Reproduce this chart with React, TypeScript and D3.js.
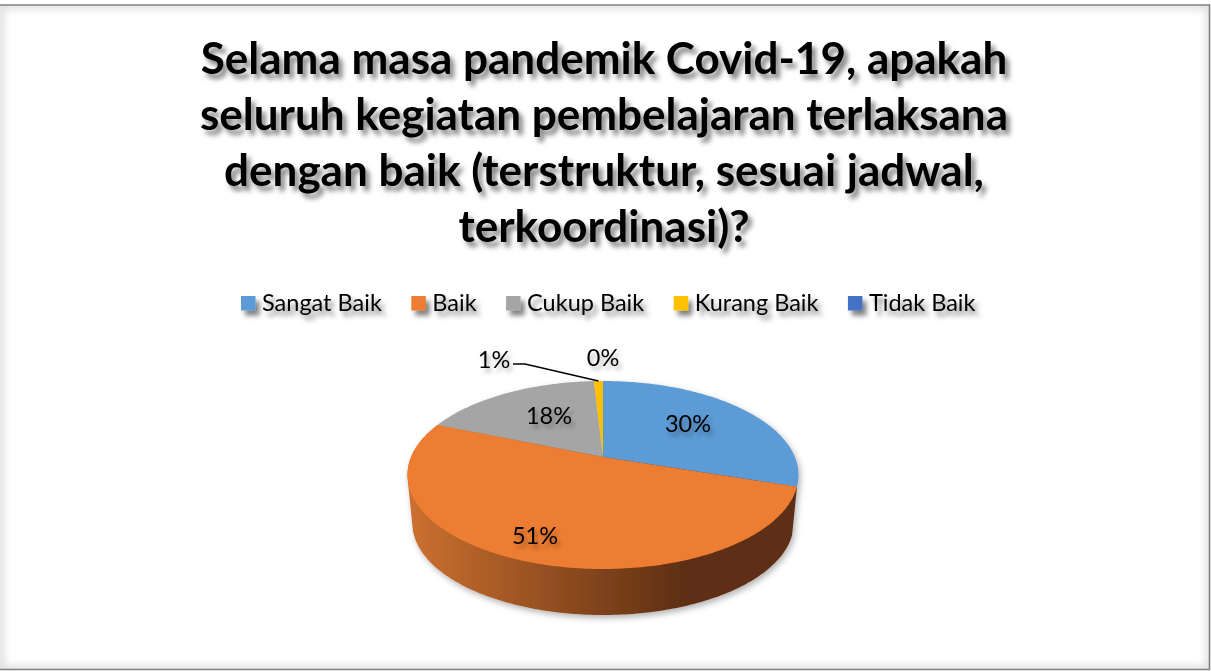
import { useEffect, useRef } from 'react';
import * as d3 from 'd3';

const categories = ['Sangat Baik', 'Baik', 'Cukup Baik', 'Kurang Baik', 'Tidak Baik'];
const values = [30.0, 51.2, 17.9, 0.9, 0];
const colors = ['#5B9BD5', '#ED7D31', '#A5A5A5', '#FFC000', '#4472C4'];
const titleLines = [
  'Selama masa pandemik Covid-19, apakah',
  'seluruh kegiatan pembelajaran terlaksana',
  'dengan baik (terstruktur, sesuai jadwal,',
  'terkoordinasi)?',
];

const width = 1211;
const height = 671;
const font = 'Lato, "Open Sans", sans-serif';

// pie is a tilted disc, apex sits above the ellipse centre
const cx = 603;
const cy = 457;
const tilt = 0.1915;
const radiusX = 191.9;
const radiusY = 90.55;
const depthScale = 0.975;
const depthDrop = 48.8;

function project(angle: number, r = 1, s = 1, drop = 0): [number, number] {
  const u = Math.sin(angle) * r;
  const v = -Math.cos(angle) * r;
  const w = 1 - tilt * v;
  return [cx + (s * radiusX * u) / w, cy + drop + (s * radiusY * v) / w];
}

function arcPoints(a0: number, a1: number, s = 1, drop = 0) {
  const n = Math.max(2, Math.ceil(Math.abs(a1 - a0) * 60));
  return d3.range(n + 1).map(i => project(a0 + ((a1 - a0) * i) / n, 1, s, drop));
}

// label centres as Excel's best fit left them
const labelAt: [number, number][] = [
  [688, 424],
  [535, 536],
  [549, 416],
  [494, 360],
  [603, 358],
];

export default function App() {
  const svgRef = useRef<SVGSVGElement>(null);

  useEffect(() => {
    if (!svgRef.current) return;
    const svg = d3.select(svgRef.current);
    svg.selectAll('*').remove();

    const defs = svg.append('defs');

    const shadow = (id: string, dx: number, dy: number, blur: number, op: number) =>
      defs.append('filter')
        .attr('id', id)
        .attr('x', '-20%').attr('y', '-40%').attr('width', '140%').attr('height', '180%')
        .append('feDropShadow')
        .attr('dx', dx).attr('dy', dy)
        .attr('stdDeviation', blur)
        .attr('flood-color', '#000')
        .attr('flood-opacity', op);
    shadow('titleShadow', 4, 5, 2.6, 0.5);
    shadow('legendShadow', 4, 5, 2.6, 0.5);
    shadow('labelShadow', 3, 4, 2.2, 0.3);
    shadow('pieShadow', 2, 3, 3, 0.3);

    defs.append('filter').attr('id', 'edgeBlur')
      .append('feGaussianBlur').attr('stdDeviation', 4);
    defs.append('clipPath').attr('id', 'frameClip')
      .append('rect').attr('x', 0).attr('y', 5).attr('width', width - 1).attr('height', height - 6);

    const sideGradient = defs.append('linearGradient')
      .attr('id', 'sideGradient')
      .attr('gradientUnits', 'userSpaceOnUse')
      .attr('x1', cx - radiusX).attr('x2', cx + 80)
      .attr('y1', 0).attr('y2', 0);
    sideGradient.append('stop').attr('offset', '0%').attr('stop-color', '#CB7030');
    sideGradient.append('stop').attr('offset', '100%').attr('stop-color', '#5E2F12');

    // frame
    svg.append('rect').attr('width', width).attr('height', height).attr('fill', '#fff');
    svg.append('g').attr('clip-path', 'url(#frameClip)')
      .append('rect')
      .attr('x', 0).attr('y', 5).attr('width', width - 1).attr('height', height - 6)
      .attr('fill', 'none')
      .attr('stroke', '#d8d8d8')
      .attr('stroke-width', 7)
      .attr('filter', 'url(#edgeBlur)');
    svg.append('path')
      .attr('d', `M0,5H${width - 1.5}V${height - 1.5}H0`)
      .attr('fill', 'none')
      .attr('stroke', '#808080')
      .attr('stroke-width', 1.6);

    // title
    const title = svg.append('g').attr('filter', 'url(#titleShadow)');
    title.selectAll('text')
      .data(titleLines)
      .join('text')
      .attr('x', 604)
      .attr('y', (_, i) => 74 + i * 56)
      .attr('text-anchor', 'middle')
      .attr('font-family', font)
      .attr('font-weight', 700)
      .attr('font-size', 44)
      .attr('fill', '#000')
      .text(d => d);

    // legend, laid out from the measured text
    const legend = svg.append('g').attr('filter', 'url(#legendShadow)');
    const items = legend.selectAll('g')
      .data(categories)
      .join('g');
    items.append('rect')
      .attr('y', 296)
      .attr('width', 14.5)
      .attr('height', 14.5)
      .attr('fill', (_, i) => colors[i]);
    const labels = items.append('text')
      .attr('x', 21)
      .attr('y', 311)
      .attr('font-family', font)
      .attr('font-size', 23.5)
      .attr('fill', '#000')
      .text(d => d);
    let legendX = 241;
    labels.each(function (_, i) {
      const w = (this as SVGTextElement).getComputedTextLength();
      d3.select(items.nodes()[i]).attr('transform', `translate(${legendX},0)`);
      legendX += 21 + w + 29.5;
    });

    // pie
    const arcs = d3.pie<number>().sort(null).startAngle(0).endAngle(2 * Math.PI)(values);
    const line = d3.line();
    const pie = svg.append('g').attr('filter', 'url(#pieShadow)');

    // side wall: only the orange slice faces the viewer, hull gives the straight tangents
    const front = arcs[1];
    const wall = d3.polygonHull([
      ...arcPoints(front.startAngle, front.endAngle),
      ...arcPoints(front.startAngle, front.endAngle, depthScale, depthDrop),
    ]);
    pie.append('path')
      .attr('d', line(wall ?? []) + 'Z')
      .attr('fill', 'url(#sideGradient)');

    pie.selectAll('path.slice')
      .data(arcs)
      .join('path')
      .attr('class', 'slice')
      .attr('fill', (_, i) => colors[i])
      .attr('d', d => line([[cx, cy], ...arcPoints(d.startAngle, d.endAngle)]) + 'Z');

    // leader line for the 1% label
    const small = arcs[3];
    const tip = project((small.startAngle + small.endAngle) / 2);
    svg.append('path')
      .attr('d', line([[labelAt[3][0] + 19, labelAt[3][1] + 4], [labelAt[3][0] + 31, labelAt[3][1] + 4], tip]))
      .attr('fill', 'none')
      .attr('stroke', '#000')
      .attr('stroke-width', 1.4);

    // data labels
    svg.append('g').attr('filter', 'url(#labelShadow)')
      .selectAll('text')
      .data(values)
      .join('text')
      .attr('x', (_, i) => labelAt[i][0])
      .attr('y', (_, i) => labelAt[i][1] + 8)
      .attr('text-anchor', 'middle')
      .attr('font-family', font)
      .attr('font-size', 23.5)
      .attr('fill', '#000')
      .text(d => `${Math.round(d)}%`);
  }, []);

  return (
    <svg
      ref={svgRef}
      width={width}
      height={height}
      style={{ position: 'absolute', left: 0, top: 0, display: 'block' }}
    />
  );
}
